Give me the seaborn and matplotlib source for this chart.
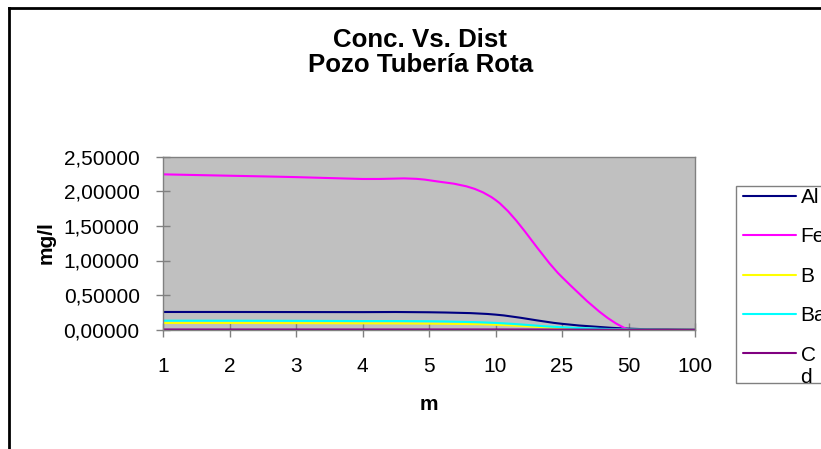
import numpy as np
import pandas as pd
import matplotlib
matplotlib.use("Agg")
import matplotlib.pyplot as plt
import seaborn as sns
from matplotlib.path import Path
from matplotlib.patches import PathPatch, Rectangle
from matplotlib.lines import Line2D
from matplotlib.ticker import FuncFormatter, MultipleLocator

# ---- data ----
distances = ["1", "2", "3", "4", "5", "10", "25", "50", "100"]
al = [0.256, 0.256, 0.255, 0.254, 0.252, 0.218, 0.085, 0.015, 0.0]
fe = [2.245, 2.225, 2.205, 2.178, 2.160, 1.875, 0.760, 0.0, 0.0]
b = [0.097, 0.097, 0.095, 0.092, 0.088, 0.072, 0.022, 0.0, 0.0]
ba = [0.130, 0.130, 0.128, 0.125, 0.122, 0.098, 0.035, 0.003, 0.0]
cd = [0.003, 0.003, 0.003, 0.003, 0.003, 0.003, 0.002, 0.0, 0.0]
elements = ["Al", "Fe", "B", "Ba", "Cd"]
colors = ["#000080", "#FF00FF", "#FFFF00", "#00FFFF", "#800080"]
yticks = [0.0, 0.5, 1.0, 1.5, 2.0, 2.5]

series = [al, fe, b, ba, cd]
df = pd.DataFrame({
    "m": distances * len(elements),
    "conc": sum(series, []),
    "elem": sum([[e] * len(distances) for e in elements], []),
})

sns.set_style("white")
plt.rcParams["font.family"] = ["Liberation Sans", "DejaVu Sans"]
plt.rcParams["text.color"] = "black"
plt.rcParams["axes.labelcolor"] = "black"
plt.rcParams["xtick.color"] = "black"
plt.rcParams["ytick.color"] = "black"

W, H = 821, 449
fig = plt.figure(figsize=(W / 100, H / 100), dpi=100)
L, R, T, B = 163, 695, 156.7, 329.7
ax = fig.add_axes([L / W, 1 - B / H, (R - L) / W, (B - T) / H])
ax.set_facecolor("#C0C0C0")

sns.lineplot(data=df, x="m", y="conc", hue="elem", hue_order=elements,
             palette=dict(zip(elements, colors)), sort=False, estimator=None,
             linewidth=1.5, ax=ax)

leg = ax.get_legend()
handles = list(leg.legend_handles)
labels = [t.get_text() for t in leg.texts]
leg.remove()


def smooth_path(xy):
    n = len(xy)
    verts = [tuple(xy[0])]
    codes = [Path.MOVETO]
    for i in range(n - 1):
        p_prev = xy[max(i - 1, 0)]
        p0 = xy[i]
        p1 = xy[i + 1]
        p_next = xy[min(i + 2, n - 1)]
        c1 = p0 + (p1 - p_prev) / 6.0
        c2 = p1 - (p_next - p0) / 6.0
        verts += [tuple(c1), tuple(c2), tuple(p1)]
        codes += [Path.CURVE4] * 3
    return Path(verts, codes)


data_lines = [l for l in ax.lines if len(l.get_xydata()) > 1]
for ln in data_lines:
    xy = np.asarray(ln.get_xydata(), dtype=float)
    patch = PathPatch(smooth_path(xy), facecolor="none", edgecolor=ln.get_color(),
                      linewidth=1.5, zorder=ln.get_zorder())
    ln.remove()
    ax.add_patch(patch)

ax.set_xlim(0, len(distances) - 1)
ax.set_ylim(yticks[0], yticks[-1])
ax.yaxis.set_major_locator(MultipleLocator(0.5))
ax.yaxis.set_major_formatter(FuncFormatter(lambda v, p: f"{v:.5f}".replace(".", ",")))
ax.set_xlabel("")
ax.set_ylabel("")
for s in ax.spines.values():
    s.set_color("#808080")
    s.set_linewidth(1.0)
ax.tick_params(axis="y", direction="inout", length=9.5, width=1, color="#808080",
               pad=12, labelsize=15, labelcolor="black", left=True)
ax.tick_params(axis="x", direction="inout", length=10, width=1, color="#808080",
               pad=15, labelsize=15, labelcolor="black", bottom=True)

# titles / axis titles
fig.text(420 / W, 1 - 46.7 / H, "Conc. Vs. Dist", ha="center", va="baseline",
         fontsize=18.6, fontweight="bold", color="black")
fig.text(421 / W, 1 - 71.7 / H, "Pozo Tubería Rota", ha="center", va="baseline",
         fontsize=18.6, fontweight="bold", color="black")
fig.text(46 / W, 1 - 243 / H, "mg/l", rotation=90, ha="center", va="center",
         fontsize=15, fontweight="bold", color="black")
fig.text(429 / W, 1 - 405 / H, "m", ha="center", va="center",
         fontsize=15, fontweight="bold", color="black")

# legend
show_labels = ["C" if lab == "Cd" else lab for lab in labels]
lg = ax.legend(handles, show_labels, loc="upper left",
               bbox_to_anchor=(743 / W, 1 - 188 / H), bbox_transform=fig.transFigure,
               frameon=False, borderpad=0, borderaxespad=0, handlelength=2.52,
               handletextpad=0.24, labelspacing=0.98, fontsize=15, labelcolor="black")
for h in lg.get_lines():
    h.set_linewidth(1.5)
fig.add_artist(Rectangle((736 / W, 1 - 383 / H), 100 / W, (383 - 186) / H,
                         transform=fig.transFigure, fill=False,
                         edgecolor="#808080", linewidth=1.0))

fig.canvas.draw()
last = lg.get_texts()[-1]
bb = last.get_window_extent()
fig.text(bb.x0 / W, (bb.y0 - 22 + 4) / H, "d", ha="left", va="baseline",
         fontsize=15, color="black")

# chart border (left and top)
fig.add_artist(Line2D([9 / W, 9 / W], [0, 1 - 8 / H], transform=fig.transFigure,
                      color="black", linewidth=2.0, solid_capstyle="projecting"))
fig.add_artist(Line2D([9 / W, 1.0], [1 - 8 / H, 1 - 8 / H], transform=fig.transFigure,
                      color="black", linewidth=2.0, solid_capstyle="projecting"))

fig.savefig("out.png", dpi=100)
